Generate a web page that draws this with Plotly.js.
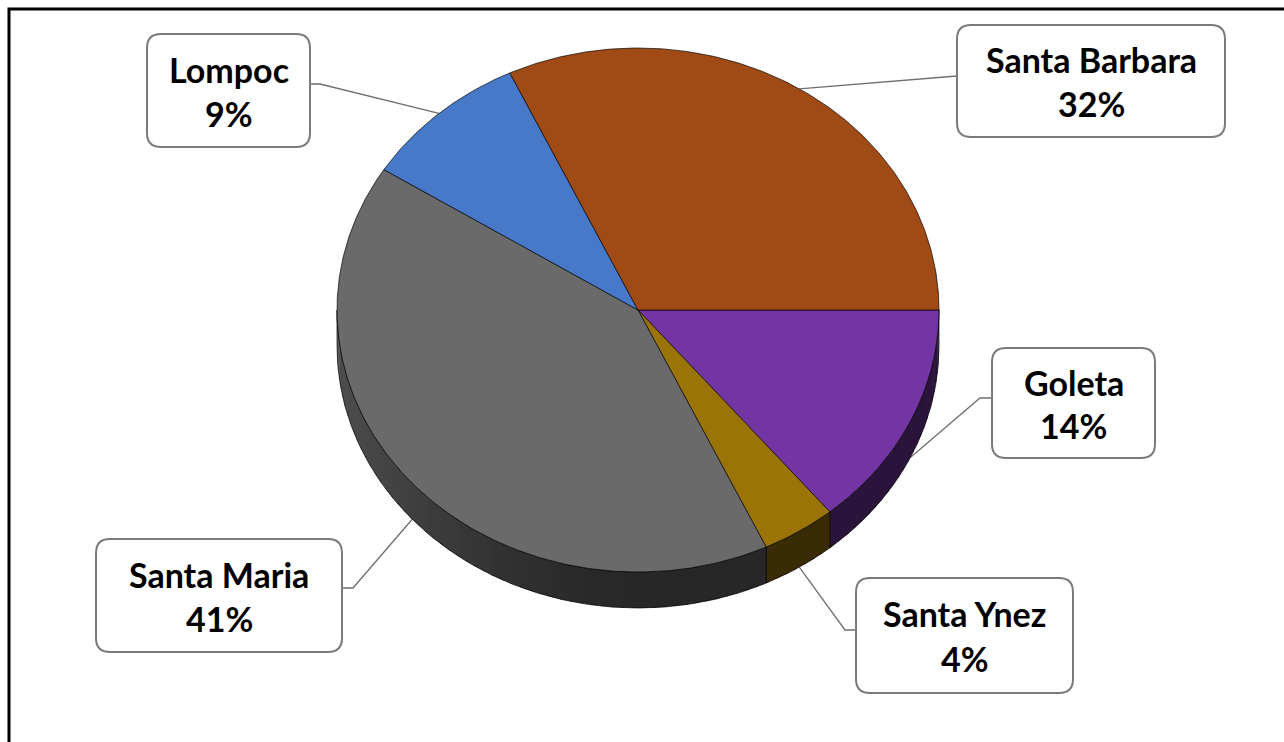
<!DOCTYPE html>
<html>
<head>
<meta charset="utf-8">
<script src="https://cdn.plot.ly/plotly-3.0.1.min.js"></script>
<style>
html,body{margin:0;padding:0;background:#fff;}
#chart{width:1284px;height:742px;}
</style>
</head>
<body>
<div id="chart"></div>
<script>
// ---- data (clockwise from 3 o'clock) ----
const categories = ['Goleta', 'Santa Ynez', 'Santa Maria', 'Lompoc', 'Santa Barbara'];
const values = [14, 4, 41, 9, 32];
const colors = ['#7335A3', '#9B7408', '#6A6A6A', '#4878C8', '#A04B15'];

// ---- geometry / style constants (pixels) ----
const W = 1284, H = 742;
const cx = 638, cy = 310, rx = 301, ry = 262, depth = 36;
const boxes = {
  'Goleta':        {x0: 992, y0: 348, x1: 1155, y1: 458, attach: [992, 398], elbow: [980, 398]},
  'Santa Ynez':    {x0: 856, y0: 578, x1: 1073, y1: 693, attach: [856, 630], elbow: [845, 630]},
  'Santa Maria':   {x0: 96,  y0: 539, x1: 342,  y1: 652, attach: [342, 588], elbow: [353, 588]},
  'Lompoc':        {x0: 147, y0: 34,  x1: 310,  y1: 147, attach: [310, 84],  elbow: [320, 84]},
  'Santa Barbara': {x0: 957, y0: 25,  x1: 1225, y1: 137, attach: [957, 76],  elbow: [957, 76]}
};
const FONT = 'Lato, "Open Sans", "DejaVu Sans", sans-serif';
const FSIZE = 34;

function hexToRgb(h){ return [parseInt(h.substr(1,2),16), parseInt(h.substr(3,2),16), parseInt(h.substr(5,2),16)]; }
function shade(h, f){ const c = hexToRgb(h); return 'rgb(' + c.map(v => Math.round(v*f)).join(',') + ')'; }
function pt(deg, dy){ const r = deg*Math.PI/180; return [cx + rx*Math.cos(r), cy + ry*Math.sin(r) + (dy||0)]; }
// arc points from a to b (either direction) with exact endpoints
function arc(a, b, dy){
  const n = Math.max(2, Math.ceil(Math.abs(b - a) / 0.5));
  const out = [];
  for (let i = 0; i <= n; i++) out.push(pt(a + (b - a) * i / n, dy));
  return out;
}

const total = values.reduce((a,b)=>a+b,0);
const sideTraces = [], topTraces = [], leaderTraces = [];
let start = 0;
const slices = values.map((v,i) => {
  const a0 = start, a1 = start + v/total*360;
  start = a1;
  return {name: categories[i], value: v, color: colors[i], a0, a1};
});

// sides (visible portion: angles 0..180, i.e. lower half on screen)
slices.forEach(s => {
  const lo = Math.max(s.a0, 0), hi = Math.min(s.a1, 180);
  if (hi <= lo) return;
  const step = 2;
  for (let a = lo; a < hi; a += step) {
    const a2 = Math.max(lo, a - 0.3);
    const b = Math.min(a + step + 0.3, hi);
    const pts = arc(a2, b, 0).concat(arc(b, a2, depth));
    const m = (a2 + b) / 2;
    const c = Math.cos(m*Math.PI/180);
    const f = 0.37 + 0.36*Math.pow(Math.max(0, -c), 1.6);
    sideTraces.push({type:'scatter', mode:'lines', x: pts.map(p=>p[0]), y: pts.map(p=>p[1]), fill:'toself',
      fillcolor: shade(s.color, f), line:{width:0, color:'rgba(0,0,0,0)'}, hoverinfo:'skip', showlegend:false});
  }
  // outline
  const pts = arc(lo, hi, 0).concat(arc(hi, lo, depth));
  pts.push(pts[0]);
  sideTraces.push({type:'scatter', mode:'lines', x: pts.map(p=>p[0]), y: pts.map(p=>p[1]),
    line:{color:'rgba(0,0,0,0.85)', width:0.8}, hoverinfo:'skip', showlegend:false});
});

// top faces
slices.forEach(s => {
  const pts = [[cx, cy]].concat(arc(s.a0, s.a1, 0));
  pts.push([cx, cy]);
  topTraces.push({type:'scatter', mode:'lines', x: pts.map(p=>p[0]), y: pts.map(p=>p[1]), fill:'toself', fillcolor: s.color,
    line:{color:'rgba(0,0,0,0.85)', width:0.8}, hoverinfo:'skip', showlegend:false, name: s.name});
});

// leader lines, label boxes and texts
const shapes = [];
const annotations = [];
slices.forEach(s => {
  const b = boxes[s.name];
  const m = (s.a0 + s.a1) / 2;
  const sn = Math.sin(m*Math.PI/180);
  const anchor = pt(m, sn > 0 ? depth : 0);
  leaderTraces.push({type:'scatter', mode:'lines', x:[b.attach[0], b.elbow[0], anchor[0]],
    y:[b.attach[1], b.elbow[1], anchor[1]], line:{color:'#6f6f6f', width:1.3}, hoverinfo:'skip', showlegend:false});
  const r = 14;
  const path = `M ${b.x0+r},${b.y0} L ${b.x1-r},${b.y0} Q ${b.x1},${b.y0} ${b.x1},${b.y0+r} L ${b.x1},${b.y1-r} Q ${b.x1},${b.y1} ${b.x1-r},${b.y1} L ${b.x0+r},${b.y1} Q ${b.x0},${b.y1} ${b.x0},${b.y1-r} L ${b.x0},${b.y0+r} Q ${b.x0},${b.y0} ${b.x0+r},${b.y0} Z`;
  shapes.push({type:'path', xref:'x', yref:'y', path: path, fillcolor:'#ffffff', line:{color:'#7a7a7a', width:2}, layer:'above'});
  const xc = (b.x0 + b.x1) / 2, h = b.y1 - b.y0;
  annotations.push({xref:'x', yref:'y', x: xc, y: b.y0 + h*0.31, text: '<b>' + s.name + '</b>', showarrow:false,
    xanchor:'center', yanchor:'middle', font:{family: FONT, size: FSIZE, color:'#000'}});
  annotations.push({xref:'x', yref:'y', x: xc, y: b.y0 + h*0.70, text: '<b>' + Math.round(s.value/total*100) + '%</b>', showarrow:false,
    xanchor:'center', yanchor:'middle', font:{family: FONT, size: FSIZE, color:'#000'}});
});

// outer chart border
shapes.push({type:'rect', xref:'paper', yref:'paper', x0: 9/W, x1: 1.02, y0: -0.05, y1: 1 - 9/H,
  line:{color:'#000', width:3}, fillcolor:'rgba(0,0,0,0)', layer:'above'});

const data = [].concat(leaderTraces, sideTraces, topTraces);
const layout = {
  width: W, height: H,
  margin: {l:0, r:0, t:0, b:0},
  paper_bgcolor:'#ffffff', plot_bgcolor:'#ffffff',
  xaxis: {range:[0, W], visible:false, fixedrange:true},
  yaxis: {range:[H, 0], visible:false, fixedrange:true},
  showlegend:false,
  shapes: shapes,
  annotations: annotations,
  hovermode:false
};
Plotly.newPlot('chart', data, layout, {displayModeBar:false, staticPlot:true});
</script>
</body>
</html>
